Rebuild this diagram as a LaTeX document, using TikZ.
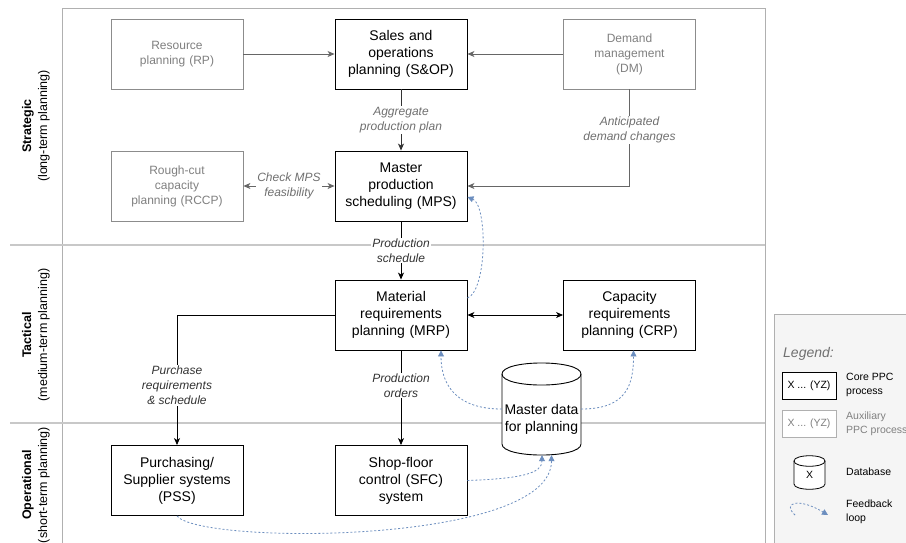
\documentclass[tikz,border=0pt]{standalone}
\usepackage{fontspec}
\setmainfont{Liberation Sans}
\usetikzlibrary{arrows.meta}
\definecolor{auxgray}{HTML}{808080}
\definecolor{auxline}{HTML}{8C8C8C}
\definecolor{lanegray}{HTML}{C8C8C8}
\definecolor{fbblue}{HTML}{6C8EBF}
\definecolor{edgegray}{HTML}{666666}
\definecolor{labgray}{HTML}{707070}
\definecolor{legfill}{HTML}{F5F5F5}
\definecolor{legline}{HTML}{B0B0B0}
\begin{document}
\begin{tikzpicture}[x=1pt,y=-1pt,
  core/.style={draw=black, line width=0.9pt, fill=white, minimum width=132pt, minimum height=70pt,
    inner sep=0pt, align=center, text width=128pt, font=\fontsize{14}{17}\selectfont},
  auxbox/.style={draw=auxline, line width=0.8pt, fill=white, minimum width=132pt, minimum height=70pt,
    inner sep=0pt, align=center, text width=128pt, text=auxgray, font=\fontsize{12}{15}\selectfont},
  elab/.style={fill=white, inner sep=1pt, align=center, font=\fontsize{12}{15}\selectfont\itshape, text=black!80},
  glab/.style={elab, text=labgray},
  arr/.style={line width=0.8pt, -{Stealth[length=7pt,width=6pt,inset=2pt]}},
  darr/.style={line width=0.8pt, {Stealth[length=7pt,width=6pt,inset=2pt]}-{Stealth[length=7pt,width=6pt,inset=2pt]}},
  fb/.style={draw=fbblue, line width=0.8pt, dash pattern=on 2pt off 2pt, -{Triangle[length=6pt,width=6pt]}, fbblue},
  lane/.style={draw=lanegray, line width=1.2pt},
  frame/.style={draw=legline, line width=0.8pt},
  lanelab/.style={rotate=90, align=center, font=\fontsize{12.5}{16}\selectfont},
  legtxt/.style={anchor=west, align=left, inner sep=0pt, font=\fontsize{10.5}{13.5}\selectfont},
]
\useasboundingbox (0,0) rectangle (906,542);
\fill[white] (0,0) rectangle (906,542);

% lanes
\draw[frame] (62,8) -- (765,8);
\draw[frame] (62,8) -- (62,545);
\draw[frame] (765,8) -- (765,545);
\draw[lane] (10,245) -- (765,245);
\draw[lane] (10,423) -- (765,423);

\node[lanelab] (lstrat) at (36,126) {\textbf{Strategic}\\(long-term planning)};
\node[lanelab] (ltact) at (36,335) {\textbf{Tactical}\\(medium-term planning)};
\node[lanelab] (loper) at (36,485) {\textbf{Operational}\\(short-term planning)};

% legend
\draw[draw=legline, fill=legfill, line width=0.8pt] (774,314) rectangle (912,550);
\node[anchor=west, inner sep=0pt, font=\fontsize{14}{16}\selectfont\itshape, text=labgray] (legt) at (783,354) {Legend:};
\node[draw=black, line width=0.9pt, fill=white, minimum width=54pt, minimum height=27pt, inner sep=0pt,
  font=\fontsize{10.5}{13}\selectfont] (legcore) at (809,386) {X ... (YZ)};
\node[draw=legline, line width=0.8pt, fill=white, minimum width=54pt, minimum height=27pt, inner sep=0pt,
  text=auxgray, font=\fontsize{10.5}{13}\selectfont] (legaux) at (809,424) {X ... (YZ)};
\node[legtxt] (legcoret) at (846,385) {Core PPC\\process};
\node[legtxt, text=auxgray] (legauxt) at (846,424) {Auxiliary\\PPC process};
\draw[line width=0.8pt, fill=white] (794,461) -- (794,484) .. controls (794,491) and (825,491) .. (825,484)
  -- (825,461) .. controls (825,454) and (794,454) .. (794,461) -- cycle;
\draw[line width=0.8pt] (794,461) .. controls (794,468) and (825,468) .. (825,461);
\node[minimum width=31pt, minimum height=35pt, inner sep=0pt, font=\fontsize{10.5}{13}\selectfont] (legdb) at (809.5,475) {\raisebox{-3pt}{X}};
\node[legtxt] (legdbt) at (846,472) {Database};
\coordinate (lfs) at (795,515);
\coordinate (lfe) at (828,515);
\draw[fb] (lfs) .. controls (782,503) and (798,497) .. (lfe);
\node[legtxt] (legfbt) at (846,512) {Feedback\\loop};

% boxes
\node[auxbox] (rp) at (177,54) {Resource\\planning (RP)};
\node[core] (sop) at (401,54) {Sales and\\operations\\planning (S\&OP)};
\node[auxbox] (dm) at (629.5,54) {Demand\\management\\(DM)};
\node[auxbox] (rccp) at (177,186) {Rough-cut\\capacity\\planning (RCCP)};
\node[core] (mps) at (401,186) {Master\\production\\scheduling (MPS)};
\node[core] (mrp) at (401,315) {Material\\requirements\\planning (MRP)};
\node[core] (crp) at (629.5,315) {Capacity\\requirements\\planning (CRP)};
\node[core] (pss) at (177,480.5) {Purchasing/\\Supplier systems\\(PSS)};
\node[core] (sfc) at (401,480.5) {Shop-floor\\control (SFC)\\system};

% database
\draw[line width=0.9pt, fill=white] (502,374) -- (502,444) .. controls (502,458.7) and (581,458.7) .. (581,444)
  -- (581,374) .. controls (581,359.3) and (502,359.3) .. (502,374) -- cycle;
\draw[line width=0.9pt] (502,374) .. controls (502,388.7) and (581,388.7) .. (581,374);
\node[minimum width=79pt, minimum height=92pt, inner sep=0pt] (db) at (541.5,409) {};
\node[align=center, font=\fontsize{14}{17}\selectfont] (dbt) at (541.5,419.5) {Master data\\for planning};

% connectors
\draw[arr, edgegray] (rp) -- (sop);
\draw[arr, edgegray] (dm) -- (sop);
\draw[arr, black!80] (sop) -- node[glab] (laggr) {Aggregate\\production plan} (mps);
\draw[darr, edgegray] (rccp) -- node[glab] (lcheck) {Check MPS\\feasibility} (mps);
\draw[arr, edgegray] (dm.south) |- node[glab, pos=0.21] (lant) {Anticipated\\demand changes} (mps.east);
\draw[arr, black] (mps) -- node[elab] (lps) {Production\\schedule} (mrp);
\draw[darr, black] (mrp) -- (crp);
\draw[arr, black] (mrp.west) -| node[elab, pos=0.77] (lpur) {Purchase\\requirements\\\& schedule} (pss.north);
\draw[arr, black] (mrp) -- node[elab, pos=0.37] (lpo) {Production\\orders} (sfc);

% feedback loops
\draw[fb] ([yshift=17pt]mrp.east) .. controls +(20,-8) and +(20,8) .. ([yshift=-11pt]mps.east);
\draw[fb] (db.west) .. controls +(-45,0) and +(0,35) .. ([xshift=40pt]mrp.south);
\draw[fb] (db.east) .. controls +(45,0) and +(0,35) .. ([xshift=4pt]crp.south);
\draw[fb] (sfc.east) .. controls +(55,-2) and +(0,18) .. ([xshift=0.5pt]db.south);
\draw[fb] (pss.south) .. controls +(23,29) and +(0,90) .. ([xshift=10pt]db.south);
\end{tikzpicture}
\end{document}
